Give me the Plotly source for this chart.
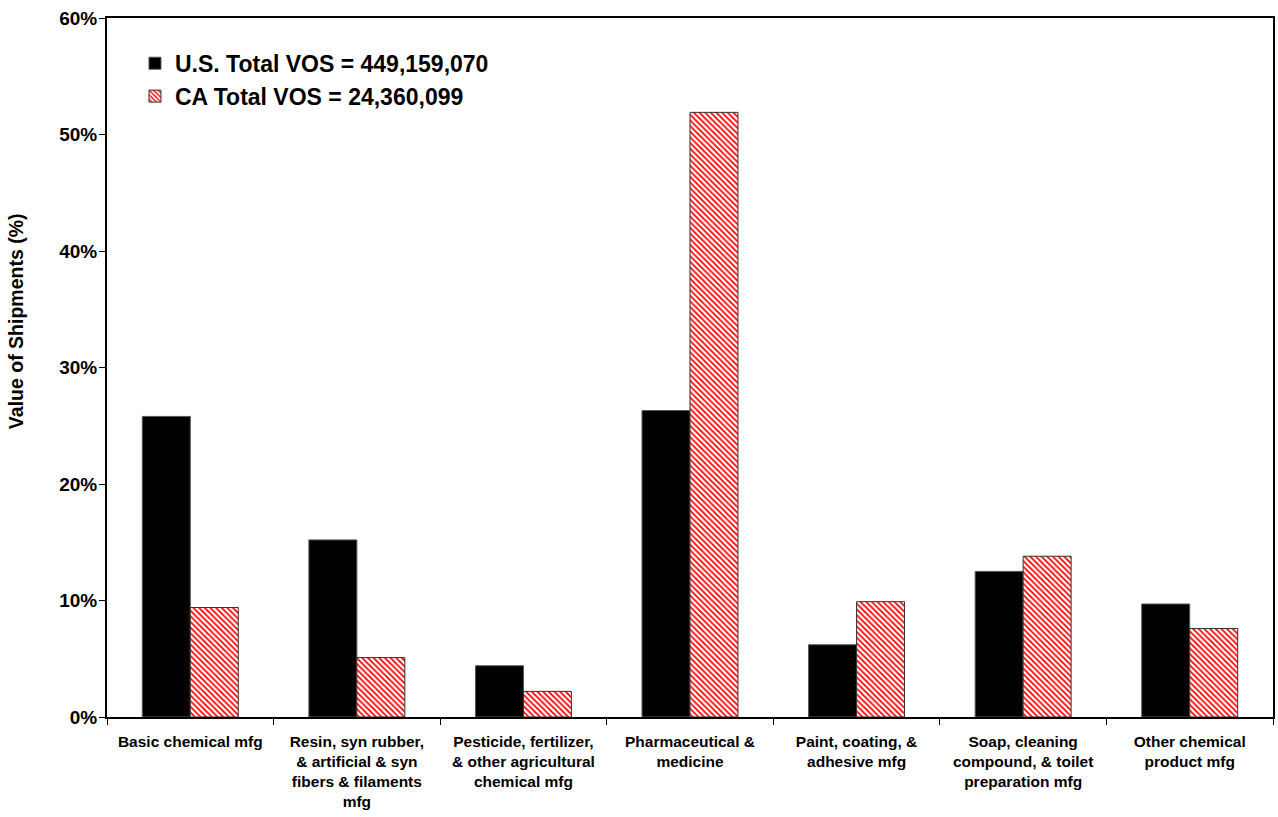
import plotly.graph_objects as go

# Chemical manufacturing subsectors
categories = [
    "Basic chemical mfg",
    "Resin, syn rubber,<br>& artificial & syn<br>fibers & filaments<br>mfg",
    "Pesticide, fertilizer,<br>& other agricultural<br>chemical mfg",
    "Pharmaceutical &<br>medicine",
    "Paint, coating, &<br>adhesive mfg",
    "Soap, cleaning<br>compound, & toilet<br>preparation mfg",
    "Other chemical<br>product mfg",
]

# Share of value of shipments (%)
us_share = [25.8, 15.2, 4.4, 26.3, 6.2, 12.5, 9.7]
ca_share = [9.4, 5.1, 2.2, 51.9, 9.9, 13.8, 7.6]

us_name = "U.S. Total VOS = 449,159,070"
ca_name = "CA Total VOS = 24,360,099"
y_title = "Value of Shipments (%)"

FONT = "Liberation Sans, Arial, sans-serif"

fig = go.Figure()
fig.add_trace(go.Bar(
    x=categories, y=us_share, name=us_name, legendgroup="us",
    marker=dict(color="black", line=dict(color="#555555", width=1)),
))
fig.add_trace(go.Bar(
    x=categories, y=ca_share, name=ca_name, legendgroup="ca",
    marker=dict(
        color="white",
        line=dict(color="#333333", width=1),
        pattern=dict(shape="\\", fgcolor="red", bgcolor="white",
                     size=4, solidity=0.45, fillmode="replace"),
    ),
))

fig.update_layout(
    width=1278, height=817,
    margin=dict(l=107, r=3, t=18, b=100),
    paper_bgcolor="white", plot_bgcolor="white",
    barmode="group", bargap=0.424, bargroupgap=0,
    font=dict(family=FONT, color="black"),
    legend=dict(
        x=0.024, y=0.966, xanchor="left", yanchor="top",
        bgcolor="rgba(0,0,0,0)",
        font=dict(family=FONT, size=23, color="black", weight="bold"),
        tracegroupgap=0, traceorder="grouped",
    ),
    showlegend=True,
)

# vertical axis title, placed left of the tick labels
fig.add_annotation(
    text=y_title, textangle=-90,
    xref="paper", yref="paper", x=-0.0785, y=0.567,
    xanchor="center", yanchor="middle", showarrow=False,
    font=dict(family=FONT, size=19.5, color="black", weight="bold"),
)

fig.update_xaxes(
    type="category", tickson="boundaries", ticks="outside", ticklen=6,
    tickcolor="black", tickwidth=1, ticklabelstandoff=9,
    showline=True, linecolor="black", linewidth=2, mirror=True,
    showgrid=False,
    tickfont=dict(family=FONT, size=15.5, color="black", weight="bold"),
)
fig.update_yaxes(
    range=[0, 60], dtick=10, ticksuffix="%",
    ticks="outside", ticklen=6, tickcolor="black", tickwidth=1,
    ticklabelstandoff=-2,
    showline=True, linecolor="black", linewidth=2, mirror=True,
    showgrid=False, zeroline=False,
    tickfont=dict(family=FONT, size=19, color="black", weight="bold"),
)

fig.write_html("out.html")
